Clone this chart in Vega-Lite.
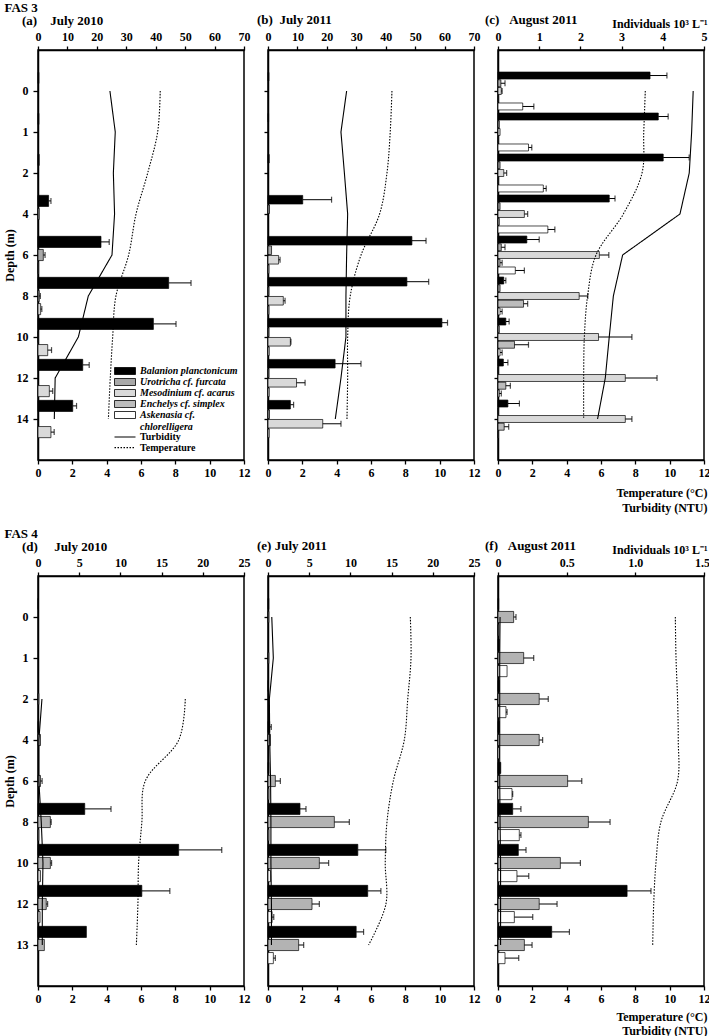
{
  "$schema": "https://vega.github.io/schema/vega-lite/v6.json",
  "background": "white",
  "padding": {"left": 2, "top": 0, "right": 0, "bottom": 0},
  "datasets": {
    "bars": [
      {"panel":"a","depth":0,"species":"Balanion planctonicum","value":0.3},
      {"panel":"a","depth":1,"species":"Balanion planctonicum","value":0.3},
      {"panel":"a","depth":2,"species":"Balanion planctonicum","value":0.4},
      {"panel":"a","depth":4,"species":"Balanion planctonicum","value":3.6,"err":4.4},
      {"panel":"a","depth":4,"species":"Urotricha cf. furcata","value":0.4},
      {"panel":"a","depth":6,"species":"Balanion planctonicum","value":21.4,"err":24.2},
      {"panel":"a","depth":6,"species":"Urotricha cf. furcata","value":1.8,"err":2.4},
      {"panel":"a","depth":6,"species":"Mesodinium cf. acarus","value":0.2},
      {"panel":"a","depth":8,"species":"Balanion planctonicum","value":44.4,"err":52},
      {"panel":"a","depth":8,"species":"Urotricha cf. furcata","value":0.4,"err":0.8},
      {"panel":"a","depth":8,"species":"Mesodinium cf. acarus","value":0.9,"err":1.3},
      {"panel":"a","depth":10,"species":"Balanion planctonicum","value":39.2,"err":46.9},
      {"panel":"a","depth":10,"species":"Urotricha cf. furcata","value":0.1},
      {"panel":"a","depth":10,"species":"Mesodinium cf. acarus","value":3.3,"err":4.6},
      {"panel":"a","depth":12,"species":"Balanion planctonicum","value":15.2,"err":17.4},
      {"panel":"a","depth":12,"species":"Mesodinium cf. acarus","value":3.85,"err":5.0},
      {"panel":"a","depth":14,"species":"Balanion planctonicum","value":11.8,"err":13.1},
      {"panel":"a","depth":14,"species":"Mesodinium cf. acarus","value":4.4,"err":5.5},

      {"panel":"b","depth":0,"species":"Balanion planctonicum","value":0.3},
      {"panel":"b","depth":1,"species":"Balanion planctonicum","value":0.2},
      {"panel":"b","depth":2,"species":"Balanion planctonicum","value":0.4},
      {"panel":"b","depth":4,"species":"Balanion planctonicum","value":11.8,"err":21.6},
      {"panel":"b","depth":4,"species":"Urotricha cf. furcata","value":0.5},
      {"panel":"b","depth":6,"species":"Balanion planctonicum","value":48.9,"err":53.7},
      {"panel":"b","depth":6,"species":"Urotricha cf. furcata","value":1.2},
      {"panel":"b","depth":6,"species":"Mesodinium cf. acarus","value":3.6,"err":4.1},
      {"panel":"b","depth":6,"species":"Askenasia cf. chlorelligera","value":0.3},
      {"panel":"b","depth":8,"species":"Balanion planctonicum","value":47.2,"err":54.6},
      {"panel":"b","depth":8,"species":"Urotricha cf. furcata","value":0.3},
      {"panel":"b","depth":8,"species":"Mesodinium cf. acarus","value":5.2,"err":5.8},
      {"panel":"b","depth":8,"species":"Askenasia cf. chlorelligera","value":0.3},
      {"panel":"b","depth":10,"species":"Balanion planctonicum","value":59.1,"err":61.0},
      {"panel":"b","depth":10,"species":"Urotricha cf. furcata","value":0.3},
      {"panel":"b","depth":10,"species":"Mesodinium cf. acarus","value":7.6,"err":7.8},
      {"panel":"b","depth":10,"species":"Askenasia cf. chlorelligera","value":0.4},
      {"panel":"b","depth":12,"species":"Balanion planctonicum","value":22.8,"err":31.6},
      {"panel":"b","depth":12,"species":"Urotricha cf. furcata","value":0.3},
      {"panel":"b","depth":12,"species":"Mesodinium cf. acarus","value":9.7,"err":12.6},
      {"panel":"b","depth":12,"species":"Askenasia cf. chlorelligera","value":0.4},
      {"panel":"b","depth":14,"species":"Balanion planctonicum","value":7.6,"err":8.7},
      {"panel":"b","depth":14,"species":"Urotricha cf. furcata","value":0.5},
      {"panel":"b","depth":14,"species":"Mesodinium cf. acarus","value":18.6,"err":24.8},
      {"panel":"b","depth":14,"species":"Askenasia cf. chlorelligera","value":0.4},

      {"panel":"c","depth":0,"species":"Balanion planctonicum","value":3.69,"err":4.10},
      {"panel":"c","depth":0,"species":"Urotricha cf. furcata","value":0.07,"err":0.17},
      {"panel":"c","depth":0,"species":"Mesodinium cf. acarus","value":0.08,"err":0.10},
      {"panel":"c","depth":0,"species":"Enchelys cf. simplex","value":0.01},
      {"panel":"c","depth":0,"species":"Askenasia cf. chlorelligera","value":0.6,"err":0.87},
      {"panel":"c","depth":1,"species":"Balanion planctonicum","value":3.89,"err":4.13},
      {"panel":"c","depth":1,"species":"Urotricha cf. furcata","value":0.03},
      {"panel":"c","depth":1,"species":"Mesodinium cf. acarus","value":0.05},
      {"panel":"c","depth":1,"species":"Enchelys cf. simplex","value":0.01},
      {"panel":"c","depth":1,"species":"Askenasia cf. chlorelligera","value":0.74,"err":0.82},
      {"panel":"c","depth":2,"species":"Balanion planctonicum","value":4.01,"err":4.64},
      {"panel":"c","depth":2,"species":"Urotricha cf. furcata","value":0.05},
      {"panel":"c","depth":2,"species":"Mesodinium cf. acarus","value":0.14,"err":0.21},
      {"panel":"c","depth":2,"species":"Enchelys cf. simplex","value":0.01},
      {"panel":"c","depth":2,"species":"Askenasia cf. chlorelligera","value":1.1,"err":1.17},
      {"panel":"c","depth":4,"species":"Balanion planctonicum","value":2.7,"err":2.84},
      {"panel":"c","depth":4,"species":"Urotricha cf. furcata","value":0.05},
      {"panel":"c","depth":4,"species":"Mesodinium cf. acarus","value":0.64,"err":0.72},
      {"panel":"c","depth":4,"species":"Enchelys cf. simplex","value":0.03},
      {"panel":"c","depth":4,"species":"Askenasia cf. chlorelligera","value":1.21,"err":1.38},
      {"panel":"c","depth":6,"species":"Balanion planctonicum","value":0.70,"err":1.0},
      {"panel":"c","depth":6,"species":"Urotricha cf. furcata","value":0.08,"err":0.17},
      {"panel":"c","depth":6,"species":"Mesodinium cf. acarus","value":2.46,"err":2.69},
      {"panel":"c","depth":6,"species":"Enchelys cf. simplex","value":0.05,"err":0.1},
      {"panel":"c","depth":6,"species":"Askenasia cf. chlorelligera","value":0.42,"err":0.64},
      {"panel":"c","depth":8,"species":"Balanion planctonicum","value":0.14,"err":0.19},
      {"panel":"c","depth":8,"species":"Urotricha cf. furcata","value":0.05},
      {"panel":"c","depth":8,"species":"Mesodinium cf. acarus","value":1.97,"err":2.18},
      {"panel":"c","depth":8,"species":"Enchelys cf. simplex","value":0.62,"err":0.72},
      {"panel":"c","depth":8,"species":"Askenasia cf. chlorelligera","value":0.05,"err":0.1},
      {"panel":"c","depth":10,"species":"Balanion planctonicum","value":0.19,"err":0.27},
      {"panel":"c","depth":10,"species":"Urotricha cf. furcata","value":0.03},
      {"panel":"c","depth":10,"species":"Mesodinium cf. acarus","value":2.44,"err":3.25},
      {"panel":"c","depth":10,"species":"Enchelys cf. simplex","value":0.40,"err":0.74},
      {"panel":"c","depth":10,"species":"Askenasia cf. chlorelligera","value":0.05,"err":0.1},
      {"panel":"c","depth":12,"species":"Balanion planctonicum","value":0.13,"err":0.24},
      {"panel":"c","depth":12,"species":"Urotricha cf. furcata","value":0.01},
      {"panel":"c","depth":12,"species":"Mesodinium cf. acarus","value":3.09,"err":3.86},
      {"panel":"c","depth":12,"species":"Enchelys cf. simplex","value":0.19,"err":0.30},
      {"panel":"c","depth":12,"species":"Askenasia cf. chlorelligera","value":0.03,"err":0.08},
      {"panel":"c","depth":14,"species":"Balanion planctonicum","value":0.24,"err":0.52},
      {"panel":"c","depth":14,"species":"Urotricha cf. furcata","value":0.01},
      {"panel":"c","depth":14,"species":"Mesodinium cf. acarus","value":3.09,"err":3.25},
      {"panel":"c","depth":14,"species":"Enchelys cf. simplex","value":0.15,"err":0.26},
      {"panel":"c","depth":14,"species":"Askenasia cf. chlorelligera","value":0.01},

      {"panel":"d","depth":0,"species":"Balanion planctonicum","value":0.05},
      {"panel":"d","depth":2,"species":"Urotricha cf. furcata","value":0.1},
      {"panel":"d","depth":4,"species":"Balanion planctonicum","value":0.1},
      {"panel":"d","depth":4,"species":"Urotricha cf. furcata","value":0.3},
      {"panel":"d","depth":6,"species":"Urotricha cf. furcata","value":0.3,"err":0.5},
      {"panel":"d","depth":8,"species":"Balanion planctonicum","value":5.67,"err":8.86},
      {"panel":"d","depth":8,"species":"Urotricha cf. furcata","value":1.5,"err":1.6},
      {"panel":"d","depth":8,"species":"Mesodinium cf. acarus","value":0.1},
      {"panel":"d","depth":10,"species":"Balanion planctonicum","value":17.07,"err":22.3},
      {"panel":"d","depth":10,"species":"Urotricha cf. furcata","value":1.5,"err":1.65},
      {"panel":"d","depth":10,"species":"Mesodinium cf. acarus","value":0.3},
      {"panel":"d","depth":12,"species":"Balanion planctonicum","value":12.6,"err":16.0},
      {"panel":"d","depth":12,"species":"Urotricha cf. furcata","value":1.0,"err":1.17},
      {"panel":"d","depth":12,"species":"Mesodinium cf. acarus","value":0.25},
      {"panel":"d","depth":13,"species":"Balanion planctonicum","value":5.87},
      {"panel":"d","depth":13,"species":"Urotricha cf. furcata","value":0.77},

      {"panel":"e","depth":0,"species":"Balanion planctonicum","value":0.1},
      {"panel":"e","depth":0,"species":"Urotricha cf. furcata","value":0.1},
      {"panel":"e","depth":1,"species":"Urotricha cf. furcata","value":0.1},
      {"panel":"e","depth":2,"species":"Balanion planctonicum","value":0.05},
      {"panel":"e","depth":4,"species":"Balanion planctonicum","value":0.2,"err":0.4},
      {"panel":"e","depth":4,"species":"Urotricha cf. furcata","value":0.3},
      {"panel":"e","depth":6,"species":"Balanion planctonicum","value":0.1},
      {"panel":"e","depth":6,"species":"Urotricha cf. furcata","value":0.89,"err":1.5},
      {"panel":"e","depth":6,"species":"Askenasia cf. chlorelligera","value":0.1},
      {"panel":"e","depth":8,"species":"Balanion planctonicum","value":3.88,"err":4.61},
      {"panel":"e","depth":8,"species":"Urotricha cf. furcata","value":8.05,"err":9.87},
      {"panel":"e","depth":8,"species":"Askenasia cf. chlorelligera","value":0.1},
      {"panel":"e","depth":10,"species":"Balanion planctonicum","value":10.9,"err":14.3},
      {"panel":"e","depth":10,"species":"Urotricha cf. furcata","value":6.23,"err":7.36},
      {"panel":"e","depth":10,"species":"Askenasia cf. chlorelligera","value":0.3},
      {"panel":"e","depth":12,"species":"Balanion planctonicum","value":12.1,"err":13.7},
      {"panel":"e","depth":12,"species":"Urotricha cf. furcata","value":5.34,"err":6.23},
      {"panel":"e","depth":12,"species":"Askenasia cf. chlorelligera","value":0.5,"err":0.7},
      {"panel":"e","depth":13,"species":"Balanion planctonicum","value":10.7,"err":11.6},
      {"panel":"e","depth":13,"species":"Urotricha cf. furcata","value":3.72,"err":4.33},
      {"panel":"e","depth":13,"species":"Askenasia cf. chlorelligera","value":0.65,"err":0.89},

      {"panel":"f","depth":0,"species":"Balanion planctonicum","value":0.005},
      {"panel":"f","depth":0,"species":"Urotricha cf. furcata","value":0.114,"err":0.131},
      {"panel":"f","depth":0,"species":"Askenasia cf. chlorelligera","value":0.005},
      {"panel":"f","depth":1,"species":"Balanion planctonicum","value":0.01},
      {"panel":"f","depth":1,"species":"Urotricha cf. furcata","value":0.187,"err":0.26},
      {"panel":"f","depth":1,"species":"Askenasia cf. chlorelligera","value":0.066},
      {"panel":"f","depth":2,"species":"Balanion planctonicum","value":0.01},
      {"panel":"f","depth":2,"species":"Urotricha cf. furcata","value":0.30,"err":0.366},
      {"panel":"f","depth":2,"species":"Askenasia cf. chlorelligera","value":0.058,"err":0.066},
      {"panel":"f","depth":4,"species":"Balanion planctonicum","value":0.01},
      {"panel":"f","depth":4,"species":"Urotricha cf. furcata","value":0.30,"err":0.325},
      {"panel":"f","depth":4,"species":"Askenasia cf. chlorelligera","value":0.01},
      {"panel":"f","depth":6,"species":"Balanion planctonicum","value":0.02},
      {"panel":"f","depth":6,"species":"Urotricha cf. furcata","value":0.507,"err":0.61},
      {"panel":"f","depth":6,"species":"Askenasia cf. chlorelligera","value":0.102,"err":0.107},
      {"panel":"f","depth":8,"species":"Balanion planctonicum","value":0.107,"err":0.167},
      {"panel":"f","depth":8,"species":"Urotricha cf. furcata","value":0.658,"err":0.816},
      {"panel":"f","depth":8,"species":"Askenasia cf. chlorelligera","value":0.155,"err":0.167},
      {"panel":"f","depth":10,"species":"Balanion planctonicum","value":0.148,"err":0.204},
      {"panel":"f","depth":10,"species":"Urotricha cf. furcata","value":0.454,"err":0.60},
      {"panel":"f","depth":10,"species":"Askenasia cf. chlorelligera","value":0.138,"err":0.224},
      {"panel":"f","depth":12,"species":"Balanion planctonicum","value":0.94,"err":1.114},
      {"panel":"f","depth":12,"species":"Urotricha cf. furcata","value":0.30,"err":0.43},
      {"panel":"f","depth":12,"species":"Askenasia cf. chlorelligera","value":0.119,"err":0.253},
      {"panel":"f","depth":13,"species":"Balanion planctonicum","value":0.391,"err":0.52},
      {"panel":"f","depth":13,"species":"Urotricha cf. furcata","value":0.192,"err":0.248},
      {"panel":"f","depth":13,"species":"Askenasia cf. chlorelligera","value":0.051,"err":0.151}
    ],
    "lines": [
      {"panel":"a","var":"Turbidity","depth":0,"value":4.19},{"panel":"a","var":"Turbidity","depth":1,"value":4.5},{"panel":"a","var":"Turbidity","depth":2,"value":4.39},{"panel":"a","var":"Turbidity","depth":4,"value":4.46},{"panel":"a","var":"Turbidity","depth":6,"value":4.31},{"panel":"a","var":"Turbidity","depth":8,"value":2.93},{"panel":"a","var":"Turbidity","depth":10,"value":2.35},{"panel":"a","var":"Turbidity","depth":12,"value":1.0},{"panel":"a","var":"Turbidity","depth":14,"value":0.95},
      {"panel":"a","var":"Temperature","depth":0,"value":7.12},{"panel":"a","var":"Temperature","depth":1,"value":6.97},{"panel":"a","var":"Temperature","depth":2,"value":6.39},{"panel":"a","var":"Temperature","depth":4,"value":5.71},{"panel":"a","var":"Temperature","depth":6,"value":5.28},{"panel":"a","var":"Temperature","depth":8,"value":4.54},{"panel":"a","var":"Temperature","depth":10,"value":4.35},{"panel":"a","var":"Temperature","depth":12,"value":4.21},{"panel":"a","var":"Temperature","depth":14,"value":4.1},
      {"panel":"b","var":"Turbidity","depth":0,"value":4.58},{"panel":"b","var":"Turbidity","depth":1,"value":4.25},{"panel":"b","var":"Turbidity","depth":2,"value":4.45},{"panel":"b","var":"Turbidity","depth":4,"value":4.64},{"panel":"b","var":"Turbidity","depth":6,"value":4.58},{"panel":"b","var":"Turbidity","depth":8,"value":4.54},{"panel":"b","var":"Turbidity","depth":10,"value":4.54},{"panel":"b","var":"Turbidity","depth":12,"value":4.25},{"panel":"b","var":"Turbidity","depth":14,"value":3.92},
      {"panel":"b","var":"Temperature","depth":0,"value":7.22},{"panel":"b","var":"Temperature","depth":1,"value":7.12},{"panel":"b","var":"Temperature","depth":2,"value":6.93},{"panel":"b","var":"Temperature","depth":4,"value":6.5},{"panel":"b","var":"Temperature","depth":6,"value":5.42},{"panel":"b","var":"Temperature","depth":8,"value":4.79},{"panel":"b","var":"Temperature","depth":10,"value":4.64},{"panel":"b","var":"Temperature","depth":12,"value":4.64},{"panel":"b","var":"Temperature","depth":14,"value":4.6},
      {"panel":"c","var":"Turbidity","depth":0,"value":11.37},{"panel":"c","var":"Turbidity","depth":1,"value":11.28},{"panel":"c","var":"Turbidity","depth":2,"value":11.14},{"panel":"c","var":"Turbidity","depth":4,"value":10.6},{"panel":"c","var":"Turbidity","depth":6,"value":7.26},{"panel":"c","var":"Turbidity","depth":8,"value":6.72},{"panel":"c","var":"Turbidity","depth":10,"value":6.48},{"panel":"c","var":"Turbidity","depth":12,"value":6.25},{"panel":"c","var":"Turbidity","depth":14,"value":5.8},
      {"panel":"c","var":"Temperature","depth":0,"value":8.58},{"panel":"c","var":"Temperature","depth":1,"value":8.49},{"panel":"c","var":"Temperature","depth":2,"value":8.39},{"panel":"c","var":"Temperature","depth":4,"value":7.3},{"panel":"c","var":"Temperature","depth":6,"value":5.71},{"panel":"c","var":"Temperature","depth":8,"value":5.22},{"panel":"c","var":"Temperature","depth":10,"value":5.03},{"panel":"c","var":"Temperature","depth":12,"value":4.99},{"panel":"c","var":"Temperature","depth":14,"value":4.99},
      {"panel":"d","var":"Turbidity","depth":2,"value":0.23},{"panel":"d","var":"Turbidity","depth":4,"value":0.05},{"panel":"d","var":"Turbidity","depth":6,"value":0.05},{"panel":"d","var":"Turbidity","depth":8,"value":0.19},{"panel":"d","var":"Turbidity","depth":10,"value":0.29},{"panel":"d","var":"Turbidity","depth":12,"value":0.25},{"panel":"d","var":"Turbidity","depth":13,"value":0.25},
      {"panel":"d","var":"Temperature","depth":2,"value":8.58},{"panel":"d","var":"Temperature","depth":4,"value":8.2},{"panel":"d","var":"Temperature","depth":6,"value":6.25},{"panel":"d","var":"Temperature","depth":8,"value":6.05},{"panel":"d","var":"Temperature","depth":10,"value":5.86},{"panel":"d","var":"Temperature","depth":12,"value":5.82},{"panel":"d","var":"Temperature","depth":13,"value":5.73},
      {"panel":"e","var":"Turbidity","depth":0,"value":0.22},{"panel":"e","var":"Turbidity","depth":1,"value":0.31},{"panel":"e","var":"Turbidity","depth":2,"value":0.08},{"panel":"e","var":"Turbidity","depth":4,"value":0.1},{"panel":"e","var":"Turbidity","depth":6,"value":0.15},{"panel":"e","var":"Turbidity","depth":8,"value":0.17},{"panel":"e","var":"Turbidity","depth":10,"value":0.17},{"panel":"e","var":"Turbidity","depth":12,"value":0.2},{"panel":"e","var":"Turbidity","depth":13,"value":0.2},
      {"panel":"e","var":"Temperature","depth":0,"value":8.29},{"panel":"e","var":"Temperature","depth":1,"value":8.33},{"panel":"e","var":"Temperature","depth":2,"value":8.14},{"panel":"e","var":"Temperature","depth":4,"value":7.94},{"panel":"e","var":"Temperature","depth":6,"value":7.3},{"panel":"e","var":"Temperature","depth":8,"value":6.93},{"panel":"e","var":"Temperature","depth":10,"value":6.83},{"panel":"e","var":"Temperature","depth":12,"value":6.87},{"panel":"e","var":"Temperature","depth":13,"value":5.86},
      {"panel":"f","var":"Turbidity","depth":0,"value":0.12},{"panel":"f","var":"Turbidity","depth":1,"value":0.1},{"panel":"f","var":"Turbidity","depth":2,"value":0.1},{"panel":"f","var":"Turbidity","depth":4,"value":0.1},{"panel":"f","var":"Turbidity","depth":6,"value":0.1},{"panel":"f","var":"Turbidity","depth":8,"value":0.12},{"panel":"f","var":"Turbidity","depth":10,"value":0.15},{"panel":"f","var":"Turbidity","depth":12,"value":0.15},{"panel":"f","var":"Turbidity","depth":13,"value":0.15},
      {"panel":"f","var":"Temperature","depth":0,"value":10.33},{"panel":"f","var":"Temperature","depth":1,"value":10.37},{"panel":"f","var":"Temperature","depth":2,"value":10.46},{"panel":"f","var":"Temperature","depth":4,"value":10.5},{"panel":"f","var":"Temperature","depth":6,"value":10.46},{"panel":"f","var":"Temperature","depth":8,"value":9.49},{"panel":"f","var":"Temperature","depth":10,"value":9.2},{"panel":"f","var":"Temperature","depth":12,"value":9.07},{"panel":"f","var":"Temperature","depth":13,"value":9.01}
    ]
  },
  "columns": 3,
  "spacing": {"row": 116, "column": 24},
  "bounds": "flush",
  "resolve": {"scale": {"fill": "independent", "strokeDash": "independent", "yOffset": "independent"}},
  "concat": [
    {
      "width": 206, "height": 410,
      "title": {"text": "(a)\u00a0\u00a0\u00a0\u00a0July 2010", "dx": -16, "dy": 28},
      "layer": [
        {
          "data": {"name": "bars"},
          "transform": [{"filter": "datum.panel == 'a'"}],
          "encoding": {
            "y": {"field": "depth", "type": "ordinal", "scale": {"domain": [0,1,2,4,6,8,10,12,14], "paddingInner": 0, "paddingOuter": 0.5}, "axis": {"title": "Depth (m)", "tickSize": 5, "labelPadding": 5, "titlePadding": 0}},
            "yOffset": {"field": "species", "type": "nominal", "scale": {"domain": ["Balanion planctonicum","Urotricha cf. furcata","Mesodinium cf. acarus"], "paddingInner": 0.15, "paddingOuter": 0.14}}
          },
          "layer": [
            {"mark": {"type": "bar", "stroke": "#000", "strokeWidth": 0.7},
             "encoding": {
               "x": {"field": "value", "type": "quantitative", "scale": {"domain": [0,70], "nice": false}, "axis": {"orient": "top", "values": [0,10,20,30,40,50,60,70], "labelPadding": 2.5, "title": "FAS 3", "titleX": -34, "titleY": -39, "titleAlign": "left", "titleAnchor": "start", "titleBaseline": "alphabetic", "titleFontSize": 13}},
               "fill": {"field": "species", "type": "nominal",
                 "scale": {"domain": ["Balanion planctonicum","Urotricha cf. furcata","Mesodinium cf. acarus","Enchelys cf. simplex","Askenasia cf. chlorelligera"], "range": ["#000000","#a8a8a8","#d9d9d9","#bcbcbc","#ffffff"]},
                 "legend": {"orient": "none", "legendX": 82, "legendY": 316, "title": null, "padding": 0,
                   "symbolType": "M-3,-1H3V1H-3Z", "symbolSize": 49, "symbolStrokeColor": "#000", "symbolStrokeWidth": 0.8,
                   "labelFont": "Liberation Serif", "labelFontSize": 10, "labelFontWeight": "bold", "labelFontStyle": "italic", "labelColor": "#000",
                   "labelOffset": 10, "rowPadding": -1.5, "labelLimit": 300,
                   "labelExpr": "datum.label == 'Askenasia cf. chlorelligera' ? ['Askenasia cf.', 'chlorelligera'] : datum.label"}}
             }},
            {"transform": [{"filter": {"field": "err", "valid": true}}],
             "mark": {"type": "rule", "color": "#000", "strokeWidth": 1},
             "encoding": {"x": {"field": "value", "type": "quantitative", "axis": {"orient": "top", "values": [0,10,20,30,40,50,60,70], "labelPadding": 2.5, "title": "FAS 3", "titleX": -34, "titleY": -39, "titleAlign": "left", "titleAnchor": "start", "titleBaseline": "alphabetic", "titleFontSize": 13}}, "x2": {"field": "err"}}},
            {"transform": [{"filter": {"field": "err", "valid": true}}],
             "mark": {"type": "tick", "orient": "vertical", "color": "#000", "size": 6, "thickness": 1.2},
             "encoding": {"x": {"field": "err", "type": "quantitative", "axis": {"orient": "top", "values": [0,10,20,30,40,50,60,70], "labelPadding": 2.5, "title": "FAS 3", "titleX": -34, "titleY": -39, "titleAlign": "left", "titleAnchor": "start", "titleBaseline": "alphabetic", "titleFontSize": 13}}}}
          ]
        },
        {
          "data": {"name": "lines"},
          "transform": [{"filter": "datum.panel == 'a'"}],
          "encoding": {
            "y": {"field": "depth", "type": "ordinal", "scale": {"domain": [0,1,2,4,6,8,10,12,14]}},
            "x": {"field": "value", "type": "quantitative", "scale": {"domain": [0,12], "nice": false}, "axis": {"orient": "bottom", "values": [0,2,4,6,8,10,12], "title": null, "labelPadding": 3.5}},
            "strokeDash": {"field": "var", "type": "nominal", "scale": {"domain": ["Turbidity","Temperature"], "range": [[1,0],[1.5,1.5]]},
              "legend": {"orient": "none", "legendX": 82, "legendY": 382, "title": null, "padding": 0,
                "symbolType": "M-3,0H3", "symbolSize": 49, "symbolStrokeColor": "#000", "symbolStrokeWidth": 1.2,
                "labelFont": "Liberation Serif", "labelFontSize": 10, "labelFontWeight": "bold", "labelColor": "#000",
                "labelOffset": 10, "rowPadding": 0.6}},
            "order": {"field": "depth", "type": "quantitative"}
          },
          "layer": [
            {"transform": [{"filter": "datum.var == 'Turbidity'"}], "mark": {"type": "line", "color": "#000", "strokeWidth": 1.1}},
            {"transform": [{"filter": "datum.var == 'Temperature'"}], "mark": {"type": "line", "color": "#000", "strokeWidth": 1.1, "interpolate": "catmull-rom"}}
          ]
        }
      ],
      "resolve": {"scale": {"x": "independent"}}
    },
    {
      "width": 206, "height": 410,
      "title": {"text": "(b)\u00a0\u00a0July 2011", "dx": -11, "dy": -3},
      "layer": [
        {
          "data": {"name": "bars"},
          "transform": [{"filter": "datum.panel == 'b'"}],
          "encoding": {
            "y": {"field": "depth", "type": "ordinal", "scale": {"domain": [0,1,2,4,6,8,10,12,14], "paddingInner": 0, "paddingOuter": 0.5}, "axis": {"title": null, "labels": false, "tickSize": 4}},
            "yOffset": {"field": "species", "type": "nominal", "scale": {"domain": ["Balanion planctonicum","Urotricha cf. furcata","Mesodinium cf. acarus","Askenasia cf. chlorelligera"], "paddingInner": 0.1, "paddingOuter": 0.2}}
          },
          "layer": [
            {"mark": {"type": "bar", "stroke": "#000", "strokeWidth": 0.7},
             "encoding": {
               "x": {"field": "value", "type": "quantitative", "scale": {"domain": [0,70], "nice": false}, "axis": {"orient": "top", "values": [0,10,20,30,40,50,60,70], "title": null, "labelPadding": 2.5}},
               "fill": {"field": "species", "type": "nominal",
                 "scale": {"domain": ["Balanion planctonicum","Urotricha cf. furcata","Mesodinium cf. acarus","Enchelys cf. simplex","Askenasia cf. chlorelligera"], "range": ["#000000","#a8a8a8","#d9d9d9","#bcbcbc","#ffffff"]},
                 "legend": null}
             }},
            {"transform": [{"filter": {"field": "err", "valid": true}}],
             "mark": {"type": "rule", "color": "#000", "strokeWidth": 1},
             "encoding": {"x": {"field": "value", "type": "quantitative", "axis": {"orient": "top", "values": [0,10,20,30,40,50,60,70], "title": null, "labelPadding": 2.5}}, "x2": {"field": "err"}}},
            {"transform": [{"filter": {"field": "err", "valid": true}}],
             "mark": {"type": "tick", "orient": "vertical", "color": "#000", "size": 6, "thickness": 1.2},
             "encoding": {"x": {"field": "err", "type": "quantitative", "axis": {"orient": "top", "values": [0,10,20,30,40,50,60,70], "title": null, "labelPadding": 2.5}}}}
          ]
        },
        {
          "data": {"name": "lines"},
          "transform": [{"filter": "datum.panel == 'b'"}],
          "encoding": {
            "y": {"field": "depth", "type": "ordinal", "scale": {"domain": [0,1,2,4,6,8,10,12,14]}},
            "x": {"field": "value", "type": "quantitative", "scale": {"domain": [0,12], "nice": false}, "axis": {"orient": "bottom", "values": [0,2,4,6,8,10,12], "title": null, "labelPadding": 3.5}},
            "strokeDash": {"field": "var", "type": "nominal", "scale": {"domain": ["Turbidity","Temperature"], "range": [[1,0],[1.5,1.5]]}, "legend": null},
            "order": {"field": "depth", "type": "quantitative"}
          },
          "layer": [
            {"transform": [{"filter": "datum.var == 'Turbidity'"}], "mark": {"type": "line", "color": "#000", "strokeWidth": 1.1}},
            {"transform": [{"filter": "datum.var == 'Temperature'"}], "mark": {"type": "line", "color": "#000", "strokeWidth": 1.1, "interpolate": "catmull-rom"}}
          ]
        }
      ],
      "resolve": {"scale": {"x": "independent"}}
    },
    {
      "width": 206, "height": 410,
      "title": {"text": "(c)\u00a0\u00a0\u00a0August 2011", "dx": -13, "dy": 11},
      "layer": [
        {
          "data": {"name": "bars"},
          "transform": [{"filter": "datum.panel == 'c'"}],
          "encoding": {
            "y": {"field": "depth", "type": "ordinal", "scale": {"domain": [0,1,2,4,6,8,10,12,14], "paddingInner": 0, "paddingOuter": 0.5}, "axis": {"title": null, "labels": false, "tickSize": 4}},
            "yOffset": {"field": "species", "type": "nominal", "scale": {"domain": ["Balanion planctonicum","Urotricha cf. furcata","Mesodinium cf. acarus","Enchelys cf. simplex","Askenasia cf. chlorelligera"], "paddingInner": 0.1, "paddingOuter": 0.2}}
          },
          "layer": [
            {"mark": {"type": "bar", "stroke": "#000", "strokeWidth": 0.7},
             "encoding": {
               "x": {"field": "value", "type": "quantitative", "scale": {"domain": [0,5], "nice": false}, "axis": {"orient": "top", "values": [0,1,2,3,4,5], "labelPadding": 2.5, "title": "Individuals 10³ L⁻¹", "titleAnchor": "end", "titleAlign": "right", "titleX": 209, "titleY": -23, "titleBaseline": "alphabetic"}},
               "fill": {"field": "species", "type": "nominal",
                 "scale": {"domain": ["Balanion planctonicum","Urotricha cf. furcata","Mesodinium cf. acarus","Enchelys cf. simplex","Askenasia cf. chlorelligera"], "range": ["#000000","#a8a8a8","#d9d9d9","#bcbcbc","#ffffff"]},
                 "legend": null}
             }},
            {"transform": [{"filter": {"field": "err", "valid": true}}],
             "mark": {"type": "rule", "color": "#000", "strokeWidth": 1},
             "encoding": {"x": {"field": "value", "type": "quantitative", "axis": {"orient": "top", "values": [0,1,2,3,4,5], "labelPadding": 2.5, "title": "Individuals 10³ L⁻¹", "titleAnchor": "end", "titleAlign": "right", "titleX": 209, "titleY": -23, "titleBaseline": "alphabetic"}}, "x2": {"field": "err"}}},
            {"transform": [{"filter": {"field": "err", "valid": true}}],
             "mark": {"type": "tick", "orient": "vertical", "color": "#000", "size": 6, "thickness": 1.2},
             "encoding": {"x": {"field": "err", "type": "quantitative", "axis": {"orient": "top", "values": [0,1,2,3,4,5], "labelPadding": 2.5, "title": "Individuals 10³ L⁻¹", "titleAnchor": "end", "titleAlign": "right", "titleX": 209, "titleY": -23, "titleBaseline": "alphabetic"}}}}
          ]
        },
        {
          "data": {"name": "lines"},
          "transform": [{"filter": "datum.panel == 'c'"}],
          "encoding": {
            "y": {"field": "depth", "type": "ordinal", "scale": {"domain": [0,1,2,4,6,8,10,12,14]}},
            "x": {"field": "value", "type": "quantitative", "scale": {"domain": [0,12], "nice": false}, "axis": {"orient": "bottom", "values": [0,2,4,6,8,10,12], "labelPadding": 3.5, "title": ["Temperature (°C)", "Turbidity (NTU)"], "titleAnchor": "end", "titleAlign": "right", "titleX": 209, "titleY": 36, "titleBaseline": "alphabetic", "titleLineHeight": 15.5}},
            "strokeDash": {"field": "var", "type": "nominal", "scale": {"domain": ["Turbidity","Temperature"], "range": [[1,0],[1.5,1.5]]}, "legend": null},
            "order": {"field": "depth", "type": "quantitative"}
          },
          "layer": [
            {"transform": [{"filter": "datum.var == 'Turbidity'"}], "mark": {"type": "line", "color": "#000", "strokeWidth": 1.1}},
            {"transform": [{"filter": "datum.var == 'Temperature'"}], "mark": {"type": "line", "color": "#000", "strokeWidth": 1.1, "interpolate": "catmull-rom"}}
          ]
        }
      ],
      "resolve": {"scale": {"x": "independent"}}
    },
    {
      "width": 206, "height": 410,
      "title": {"text": "(d)\u00a0\u00a0\u00a0\u00a0\u00a0July 2010", "dx": -16, "dy": 28},
      "layer": [
        {
          "data": {"name": "bars"},
          "transform": [{"filter": "datum.panel == 'd'"}],
          "encoding": {
            "y": {"field": "depth", "type": "ordinal", "scale": {"domain": [0,1,2,4,6,8,10,12,13], "paddingInner": 0, "paddingOuter": 0.5}, "axis": {"title": "Depth (m)", "tickSize": 5, "labelPadding": 5, "titlePadding": 0}},
            "yOffset": {"field": "species", "type": "nominal", "scale": {"domain": ["Balanion planctonicum","Urotricha cf. furcata","Mesodinium cf. acarus"], "paddingInner": 0.15, "paddingOuter": 0.14}}
          },
          "layer": [
            {"mark": {"type": "bar", "stroke": "#000", "strokeWidth": 0.7},
             "encoding": {
               "x": {"field": "value", "type": "quantitative", "scale": {"domain": [0,25], "nice": false}, "axis": {"orient": "top", "values": [0,5,10,15,20,25], "labelPadding": 2.5, "title": "FAS 4", "titleX": -34, "titleY": -39, "titleAlign": "left", "titleAnchor": "start", "titleBaseline": "alphabetic", "titleFontSize": 13}},
               "fill": {"field": "species", "type": "nominal",
                 "scale": {"domain": ["Balanion planctonicum","Urotricha cf. furcata","Mesodinium cf. acarus","Enchelys cf. simplex","Askenasia cf. chlorelligera"], "range": ["#000000","#b3b3b3","#d9d9d9","#bcbcbc","#ffffff"]},
                 "legend": null}
             }},
            {"transform": [{"filter": {"field": "err", "valid": true}}],
             "mark": {"type": "rule", "color": "#000", "strokeWidth": 1},
             "encoding": {"x": {"field": "value", "type": "quantitative", "axis": {"orient": "top", "values": [0,5,10,15,20,25], "labelPadding": 2.5, "title": "FAS 4", "titleX": -34, "titleY": -39, "titleAlign": "left", "titleAnchor": "start", "titleBaseline": "alphabetic", "titleFontSize": 13}}, "x2": {"field": "err"}}},
            {"transform": [{"filter": {"field": "err", "valid": true}}],
             "mark": {"type": "tick", "orient": "vertical", "color": "#000", "size": 6, "thickness": 1.2},
             "encoding": {"x": {"field": "err", "type": "quantitative", "axis": {"orient": "top", "values": [0,5,10,15,20,25], "labelPadding": 2.5, "title": "FAS 4", "titleX": -34, "titleY": -39, "titleAlign": "left", "titleAnchor": "start", "titleBaseline": "alphabetic", "titleFontSize": 13}}}}
          ]
        },
        {
          "data": {"name": "lines"},
          "transform": [{"filter": "datum.panel == 'd'"}],
          "encoding": {
            "y": {"field": "depth", "type": "ordinal", "scale": {"domain": [0,1,2,4,6,8,10,12,13]}},
            "x": {"field": "value", "type": "quantitative", "scale": {"domain": [0,12], "nice": false}, "axis": {"orient": "bottom", "values": [0,2,4,6,8,10,12], "title": null, "labelPadding": 3.5}},
            "strokeDash": {"field": "var", "type": "nominal", "scale": {"domain": ["Turbidity","Temperature"], "range": [[1,0],[1.5,1.5]]}, "legend": null},
            "order": {"field": "depth", "type": "quantitative"}
          },
          "layer": [
            {"transform": [{"filter": "datum.var == 'Turbidity'"}], "mark": {"type": "line", "color": "#000", "strokeWidth": 1.1}},
            {"transform": [{"filter": "datum.var == 'Temperature'"}], "mark": {"type": "line", "color": "#000", "strokeWidth": 1.1, "interpolate": "catmull-rom"}}
          ]
        }
      ],
      "resolve": {"scale": {"x": "independent"}}
    },
    {
      "width": 206, "height": 410,
      "title": {"text": "(e)\u00a0July 2011", "dx": -11, "dy": -3},
      "layer": [
        {
          "data": {"name": "bars"},
          "transform": [{"filter": "datum.panel == 'e'"}],
          "encoding": {
            "y": {"field": "depth", "type": "ordinal", "scale": {"domain": [0,1,2,4,6,8,10,12,13], "paddingInner": 0, "paddingOuter": 0.5}, "axis": {"title": null, "labels": false, "tickSize": 4}},
            "yOffset": {"field": "species", "type": "nominal", "scale": {"domain": ["Balanion planctonicum","Urotricha cf. furcata","Askenasia cf. chlorelligera"], "paddingInner": 0.15, "paddingOuter": 0.14}}
          },
          "layer": [
            {"mark": {"type": "bar", "stroke": "#000", "strokeWidth": 0.7},
             "encoding": {
               "x": {"field": "value", "type": "quantitative", "scale": {"domain": [0,25], "nice": false}, "axis": {"orient": "top", "values": [0,5,10,15,20,25], "title": null, "labelPadding": 2.5}},
               "fill": {"field": "species", "type": "nominal",
                 "scale": {"domain": ["Balanion planctonicum","Urotricha cf. furcata","Mesodinium cf. acarus","Enchelys cf. simplex","Askenasia cf. chlorelligera"], "range": ["#000000","#b3b3b3","#d9d9d9","#bcbcbc","#ffffff"]},
                 "legend": null}
             }},
            {"transform": [{"filter": {"field": "err", "valid": true}}],
             "mark": {"type": "rule", "color": "#000", "strokeWidth": 1},
             "encoding": {"x": {"field": "value", "type": "quantitative", "axis": {"orient": "top", "values": [0,5,10,15,20,25], "title": null, "labelPadding": 2.5}}, "x2": {"field": "err"}}},
            {"transform": [{"filter": {"field": "err", "valid": true}}],
             "mark": {"type": "tick", "orient": "vertical", "color": "#000", "size": 6, "thickness": 1.2},
             "encoding": {"x": {"field": "err", "type": "quantitative", "axis": {"orient": "top", "values": [0,5,10,15,20,25], "title": null, "labelPadding": 2.5}}}}
          ]
        },
        {
          "data": {"name": "lines"},
          "transform": [{"filter": "datum.panel == 'e'"}],
          "encoding": {
            "y": {"field": "depth", "type": "ordinal", "scale": {"domain": [0,1,2,4,6,8,10,12,13]}},
            "x": {"field": "value", "type": "quantitative", "scale": {"domain": [0,12], "nice": false}, "axis": {"orient": "bottom", "values": [0,2,4,6,8,10,12], "title": null, "labelPadding": 3.5}},
            "strokeDash": {"field": "var", "type": "nominal", "scale": {"domain": ["Turbidity","Temperature"], "range": [[1,0],[1.5,1.5]]}, "legend": null},
            "order": {"field": "depth", "type": "quantitative"}
          },
          "layer": [
            {"transform": [{"filter": "datum.var == 'Turbidity'"}], "mark": {"type": "line", "color": "#000", "strokeWidth": 1.1}},
            {"transform": [{"filter": "datum.var == 'Temperature'"}], "mark": {"type": "line", "color": "#000", "strokeWidth": 1.1, "interpolate": "catmull-rom"}}
          ]
        }
      ],
      "resolve": {"scale": {"x": "independent"}}
    },
    {
      "width": 206, "height": 410,
      "title": {"text": "(f)\u00a0\u00a0\u00a0August 2011", "dx": -13, "dy": 11},
      "layer": [
        {
          "data": {"name": "bars"},
          "transform": [{"filter": "datum.panel == 'f'"}],
          "encoding": {
            "y": {"field": "depth", "type": "ordinal", "scale": {"domain": [0,1,2,4,6,8,10,12,13], "paddingInner": 0, "paddingOuter": 0.5}, "axis": {"title": null, "labels": false, "tickSize": 4}},
            "yOffset": {"field": "species", "type": "nominal", "scale": {"domain": ["Balanion planctonicum","Urotricha cf. furcata","Askenasia cf. chlorelligera"], "paddingInner": 0.15, "paddingOuter": 0.14}}
          },
          "layer": [
            {"mark": {"type": "bar", "stroke": "#000", "strokeWidth": 0.7},
             "encoding": {
               "x": {"field": "value", "type": "quantitative", "scale": {"domain": [0,1.5], "nice": false}, "axis": {"orient": "top", "values": [0,0.5,1,1.5], "labelPadding": 2.5, "labelOffset": {"condition": {"test": "datum.value == 1.5", "value": -2}, "value": 0}, "labelExpr": "datum.value == 0 ? '0' : format(datum.value, '.1f')", "title": "Individuals 10³ L⁻¹", "titleAnchor": "end", "titleAlign": "right", "titleX": 209, "titleY": -23, "titleBaseline": "alphabetic"}},
               "fill": {"field": "species", "type": "nominal",
                 "scale": {"domain": ["Balanion planctonicum","Urotricha cf. furcata","Mesodinium cf. acarus","Enchelys cf. simplex","Askenasia cf. chlorelligera"], "range": ["#000000","#b3b3b3","#d9d9d9","#bcbcbc","#ffffff"]},
                 "legend": null}
             }},
            {"transform": [{"filter": {"field": "err", "valid": true}}],
             "mark": {"type": "rule", "color": "#000", "strokeWidth": 1},
             "encoding": {"x": {"field": "value", "type": "quantitative", "axis": {"orient": "top", "values": [0,0.5,1,1.5], "labelPadding": 2.5, "labelOffset": {"condition": {"test": "datum.value == 1.5", "value": -2}, "value": 0}, "labelExpr": "datum.value == 0 ? '0' : format(datum.value, '.1f')", "title": "Individuals 10³ L⁻¹", "titleAnchor": "end", "titleAlign": "right", "titleX": 209, "titleY": -23, "titleBaseline": "alphabetic"}}, "x2": {"field": "err"}}},
            {"transform": [{"filter": {"field": "err", "valid": true}}],
             "mark": {"type": "tick", "orient": "vertical", "color": "#000", "size": 6, "thickness": 1.2},
             "encoding": {"x": {"field": "err", "type": "quantitative", "axis": {"orient": "top", "values": [0,0.5,1,1.5], "labelPadding": 2.5, "labelOffset": {"condition": {"test": "datum.value == 1.5", "value": -2}, "value": 0}, "labelExpr": "datum.value == 0 ? '0' : format(datum.value, '.1f')", "title": "Individuals 10³ L⁻¹", "titleAnchor": "end", "titleAlign": "right", "titleX": 209, "titleY": -23, "titleBaseline": "alphabetic"}}}}
          ]
        },
        {
          "data": {"name": "lines"},
          "transform": [{"filter": "datum.panel == 'f'"}],
          "encoding": {
            "y": {"field": "depth", "type": "ordinal", "scale": {"domain": [0,1,2,4,6,8,10,12,13]}},
            "x": {"field": "value", "type": "quantitative", "scale": {"domain": [0,12], "nice": false}, "axis": {"orient": "bottom", "values": [0,2,4,6,8,10,12], "labelPadding": 3.5, "title": ["Temperature (°C)", "Turbidity (NTU)"], "titleAnchor": "end", "titleAlign": "right", "titleX": 209, "titleY": 34, "titleBaseline": "alphabetic", "titleLineHeight": 14}},
            "strokeDash": {"field": "var", "type": "nominal", "scale": {"domain": ["Turbidity","Temperature"], "range": [[1,0],[1.5,1.5]]}, "legend": null},
            "order": {"field": "depth", "type": "quantitative"}
          },
          "layer": [
            {"transform": [{"filter": "datum.var == 'Turbidity'"}], "mark": {"type": "line", "color": "#000", "strokeWidth": 1.1}},
            {"transform": [{"filter": "datum.var == 'Temperature'"}], "mark": {"type": "line", "color": "#000", "strokeWidth": 1.1, "interpolate": "catmull-rom"}}
          ]
        }
      ],
      "resolve": {"scale": {"x": "independent"}}
    }
  ],
  "config": {
    "font": "Liberation Serif",
    "view": {"stroke": "#000", "strokeWidth": 1.5},
    "axis": {"grid": false, "domainColor": "#000", "domainWidth": 1.5, "tickColor": "#000", "tickWidth": 1.3, "tickSize": 4,
      "labelFont": "Liberation Serif", "labelFontWeight": "bold", "labelFontSize": 12, "labelColor": "#000", "labelPadding": 2, "labelFlush": false,
      "titleFont": "Liberation Serif", "titleFontWeight": "bold", "titleFontSize": 12, "titleColor": "#000"},
    "title": {"anchor": "start", "frame": "group", "offset": 1, "font": "Liberation Serif", "fontSize": 13, "fontWeight": "bold", "color": "#000"}
  }
}
